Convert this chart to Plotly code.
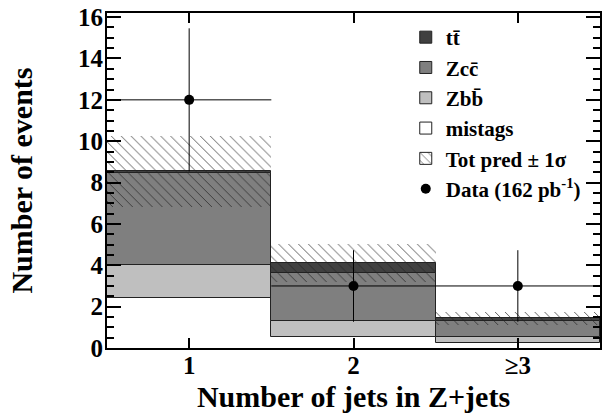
import numpy as np
import plotly.graph_objects as go

# ---- data ----
categories = [1, 2, 3]
tick_labels = ["1", "2", "≥3"]
mistags = [2.43, 0.52, 0.23]
zbb = [1.57, 0.80, 0.29]
zcc = [4.47, 2.29, 0.80]
ttbar = [0.07, 0.49, 0.12]
band_err = [1.70, 0.92, 0.32]
data = [12, 3, 3]
data_err = [3.46, 1.73, 1.73]

# ---- derived stacking ----
comps = [
    ("mistags", mistags, "#ffffff", 0, 4),
    ("Zbb̄", zbb, "#bfbfbf", 1, 3),
    ("Zcc̄", zcc, "#7f7f7f", 1, 2),
    ("tt̄", ttbar, "#404040", 1, 1),
]
FONT = "Liberation Serif"
HATCH = dict(shape="\\", size=7, solidity=0.1, fillmode="replace",
             fgcolor="#222222", bgcolor="rgba(0,0,0,0)")

fig = go.Figure()
base = np.zeros(len(categories))
for name, vals, col, lw, rank in comps:
    vals = np.array(vals, dtype=float)
    fig.add_trace(go.Bar(
        x=categories, y=vals, base=base, width=1, name=name, showlegend=False,
        marker=dict(color=col, line=dict(color="#222222", width=lw)),
    ))
    # legend-only entry with outlined swatch
    fig.add_trace(go.Bar(
        x=[None], y=[None], name=name, legendrank=rank,
        marker=dict(color=col, line=dict(color="#222222", width=1)),
    ))
    base = base + vals
total = base
lo = total - np.array(band_err)
fig.add_trace(go.Bar(
    x=categories, y=2 * np.array(band_err), base=lo, width=1, showlegend=False,
    marker=dict(color="rgba(0,0,0,0)", line=dict(width=0), pattern=HATCH),
))
fig.add_trace(go.Bar(
    x=[None], y=[None], name="Tot pred ± 1σ", legendrank=5,
    marker=dict(color="rgba(0,0,0,0)", line=dict(color="#222222", width=1), pattern=HATCH),
))
fig.add_trace(go.Scatter(
    x=categories, y=data, mode="markers", name="Data (162 pb<sup>-1</sup>)",
    marker=dict(color="black", size=10),
    error_y=dict(type="data", array=data_err, width=0, thickness=1, color="black"),
    error_x=dict(type="constant", value=0.5, width=0, thickness=1, color="black"),
    legendrank=6,
))

axis_common = dict(
    showline=True, linewidth=2, linecolor="black", mirror="allticks",
    ticks="inside", tickwidth=2, tickcolor="black", showgrid=False, zeroline=False,
    automargin=False,
    tickfont=dict(family=FONT, size=25, color="black", weight="bold"),
)
fig.update_layout(
    width=602, height=413,
    margin=dict(l=107, r=2, t=13, b=65, autoexpand=False),
    paper_bgcolor="white", plot_bgcolor="white",
    barmode="overlay", bargap=0,
    showlegend=True,
    legend=dict(x=0.606, y=0.988, xanchor="left", yanchor="top",
                bgcolor="rgba(0,0,0,0)", borderwidth=0,
                font=dict(family=FONT, size=21, color="black", weight="bold"),
                tracegroupgap=0),
    xaxis=dict(range=[0.5, 3.5], tickvals=categories, ticktext=tick_labels,
               ticklen=10, ticklabelstandoff=-6,
               title=dict(text="Number of jets in Z+jets", standoff=10,
                          font=dict(family=FONT, size=30, color="black", weight="bold")),
               **axis_common),
    yaxis=dict(range=[0, 16.2], tick0=0, dtick=2, ticklen=14, ticklabelstandoff=-3,
               minor=dict(dtick=0.5, ticklen=7, tickwidth=2, ticks="inside", tickcolor="black"),
               title=dict(text="Number of events", standoff=37,
                          font=dict(family=FONT, size=30, color="black", weight="bold")),
               **axis_common),
)
fig.write_html("out.html", config={"displayModeBar": False},
               post_script="document.body.style.margin='0px';")
